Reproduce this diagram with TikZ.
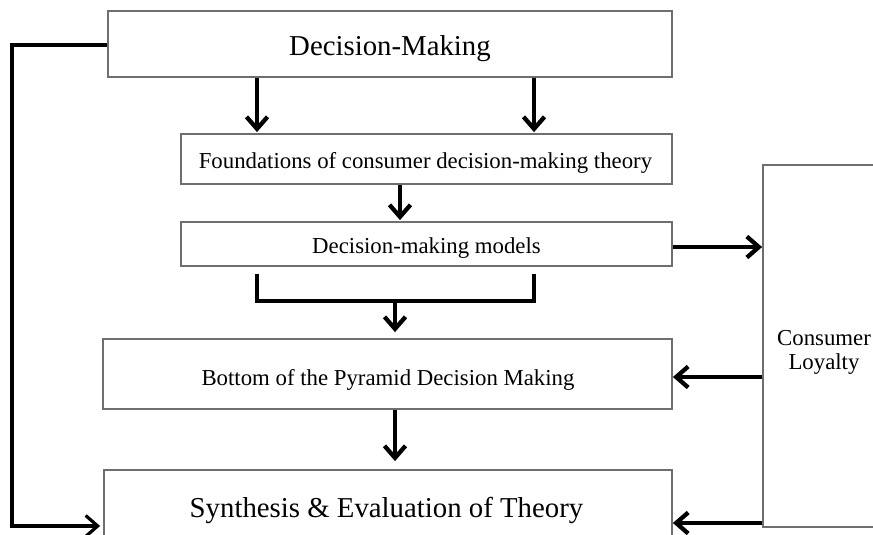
\documentclass[tikz,border=0pt]{standalone}
\usepackage{fontspec}
\setmainfont{Liberation Serif}
\usetikzlibrary{arrows.meta}
\definecolor{boxgray}{RGB}{110,110,110}
\begin{document}
\begin{tikzpicture}[x=1pt,y=-1pt,
  box/.style={draw=boxgray, line width=1.8pt, rectangle, inner sep=0pt},
  flow/.style={line width=4.3pt, -{Straight Barb[length=12pt,width=21pt]}},
  link/.style={line width=4pt},
  small/.style={font=\fontsize{22.8}{23}\selectfont, inner sep=0pt, anchor=base},
  big/.style={font=\fontsize{28.8}{30}\selectfont, inner sep=0pt, anchor=base}]
\useasboundingbox (0,0) rectangle (873,535);

% boxes
\node[box, minimum width=564pt, minimum height=66pt] (dm) at (390,44) {};
\node[box, minimum width=491pt, minimum height=50pt] (found) at (426.5,159) {};
\node[box, minimum width=491pt, minimum height=44pt] (models) at (426.5,244) {};
\node[box, minimum width=569pt, minimum height=70pt] (bottom) at (387.5,374) {};
\node[box, minimum width=568pt, minimum height=100pt] (synth) at (388,520) {};
\node[box, minimum width=140pt, minimum height=362pt] (loyal) at (833,346) {};

% texts
\node[big] (dmtext) at (390,56) {Decision-Making};
\node[small] (foundtext) at (425.5,168) {Foundations of consumer decision-making theory};
\node[small] (modelstext) at (426.5,253) {Decision-making models};
\node[small] (bottomtext) at (388,385) {Bottom of the Pyramid Decision Making};
\node[big] (synthtext) at (386.5,517) {Synthesis \& Evaluation of Theory};
\node[small] (loyal1) at (824,345) {Consumer};
\node[small] (loyal2) at (824,369) {Loyalty};

% helper coordinates
\coordinate (c257) at (257,0);
\coordinate (c534) at (534,0);
\coordinate (c400) at (400,0);
\coordinate (lft) at (12,45);
\coordinate (lbot) at (12,526);
\coordinate (bl) at (257,274);
\coordinate (br) at (534,274);
\coordinate (bj) at (395,301);
\coordinate (r247) at (0,247);
\coordinate (r377) at (0,377);
\coordinate (r523) at (0,523);

% downward flow
\draw[flow, shorten >=1pt] (dm.south -| c257) -- (found.north -| c257);
\draw[flow, shorten >=1pt] (dm.south -| c534) -- (found.north -| c534);
\draw[flow, shorten >=1pt] (found.south -| c400) -- (models.north -| c400);
\draw[link] (bl) |- (bj) -| (br);
\draw[flow, shorten >=6pt] (bj) -- (bottom.north -| bj);
\draw[flow, shorten >=8pt] (bottom.south -| bj) -- (synth.north -| bj);

% feedback loop on the left
\draw[flow, line width=3.2pt, shorten >=3pt] (dm.west |- lft) -- (lft) -- (lbot) -- (synth.west |- lbot);

% links with consumer loyalty
\draw[flow] (models.east |- r247) -- (loyal.west |- r247);
\draw[flow] (loyal.west |- r377) -- (bottom.east |- r377);
\draw[flow] (loyal.west |- r523) -- (synth.east |- r523);
\end{tikzpicture}
\end{document}
